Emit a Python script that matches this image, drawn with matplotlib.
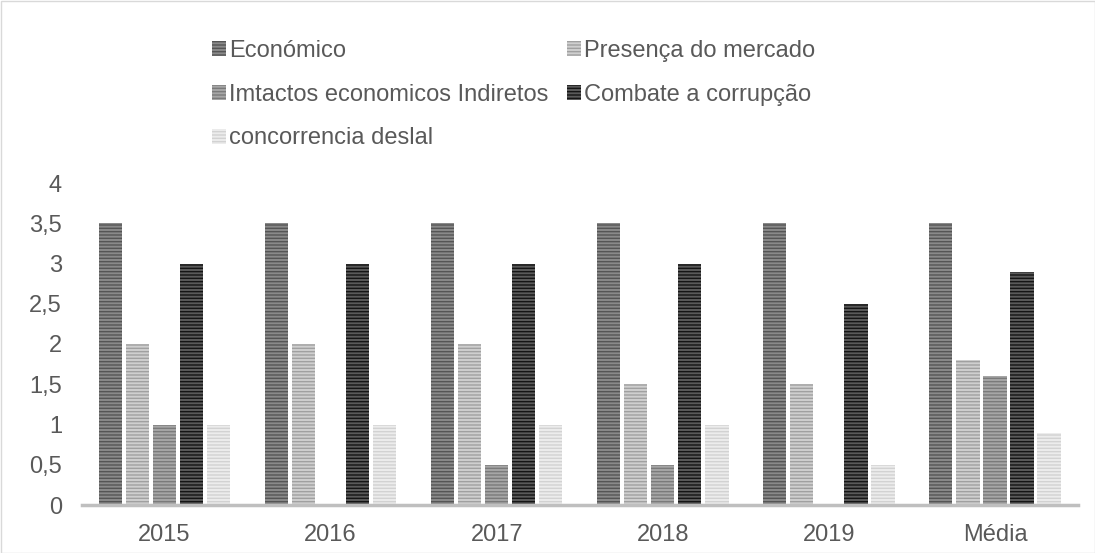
import numpy as np
import matplotlib.pyplot as plt
from matplotlib.patches import Rectangle

plt.rcParams['font.family'] = ['Liberation Sans', 'DejaVu Sans']
plt.rcParams['hatch.linewidth'] = 1.0

categories = ['2015', '2016', '2017', '2018', '2019', 'Média']
series = ['Económico', 'Presença do mercado', 'Imtactos economicos Indiretos',
          'Combate a corrupção', 'concorrencia deslal']
economico = [3.5, 3.5, 3.5, 3.5, 3.5, 3.5]
presenca = [2, 2, 2, 1.5, 1.5, 1.8]
imtactos = [1, 0, 0.5, 0.5, 0, 1.6]
combate = [3, 3, 3, 3, 2.5, 2.9]
concorrencia = [1, 1, 1, 1, 0.5, 0.9]
values = [economico, presenca, imtactos, combate, concorrencia]

face = ['#8a8a8a', '#cfcfcf', '#a6a6a6', '#5a5a5a', '#ececec']
stripe = ['#555555', '#a0a0a0', '#7a7a7a', '#151515', '#d2d2d2']
yticks = [0, 0.5, 1, 1.5, 2, 2.5, 3, 3.5, 4]
ytick_labels = ['0', '0,5', '1', '1,5', '2', '2,5', '3', '3,5', '4']

fs = 17
fig = plt.figure(figsize=(10.95, 5.53), dpi=100)
ax = fig.add_axes([81.5 / 1095, 48 / 553, (1078 - 81.5) / 1095, (505 - 183) / 553])

x = np.arange(len(categories))
step = 0.163
width = 0.14
handles = []
for i, (name, vals) in enumerate(zip(series, values)):
    b = ax.bar(x + (i - 2) * step, vals, width, color=face[i], edgecolor=stripe[i],
               hatch='-----', linewidth=0, label=name)
    handles.append(b)

ax.set_xlim(-0.5, len(categories) - 0.5)
ax.set_ylim(0, 4)
ax.set_yticks(yticks)
ax.set_yticklabels(ytick_labels)
ax.set_xticks(x)
ax.set_xticklabels(categories)
ax.tick_params(axis='both', length=0, labelsize=fs, colors='#595959')
ax.tick_params(axis='y', pad=14)
ax.tick_params(axis='x', pad=14)
for s in ['top', 'right', 'left']:
    ax.spines[s].set_visible(False)
ax.spines['bottom'].set_color('#bfbfbf')
ax.spines['bottom'].set_linewidth(2.5)

legend_kw = dict(loc='upper left', frameon=False, fontsize=fs, labelcolor='#595959',
                 handlelength=0.6, handleheight=0.6, handletextpad=0.15,
                 labelspacing=0.92, borderaxespad=0, borderpad=0)
col1 = [0, 2, 4]
col2 = [1, 3]
fig.legend(handles=[handles[i] for i in col1], labels=[series[i] for i in col1],
           bbox_to_anchor=(211.5 / 1095, 1 - 40 / 553), **legend_kw)
fig.legend(handles=[handles[i] for i in col2], labels=[series[i] for i in col2],
           bbox_to_anchor=(566.5 / 1095, 1 - 40 / 553), **legend_kw)

fig.patches.append(Rectangle((0.5 / 1095, 0.5 / 553), 1 - 1 / 1095, 1 - 1 / 553,
                             transform=fig.transFigure, fill=False,
                             edgecolor='#d9d9d9', linewidth=1))

fig.savefig('out.png', dpi=100)
